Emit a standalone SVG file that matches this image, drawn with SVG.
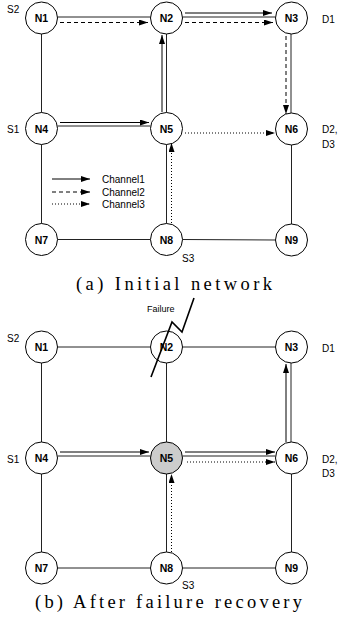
<svg xmlns="http://www.w3.org/2000/svg" width="339" height="628" viewBox="0 0 339 628">
  <defs>
    <marker id="ah" markerUnits="userSpaceOnUse" markerWidth="9" markerHeight="6" refX="9" refY="3" orient="auto">
      <path d="M0,0 L9,3 L0,6 z" fill="#000"/>
    </marker>
    <style>
      .edge { stroke: #222; stroke-width: 1; fill: none; }
      .ch1 { stroke: #000; stroke-width: 1; fill: none; marker-end: url(#ah); }
      .ch2 { stroke: #000; stroke-width: 1; fill: none; stroke-dasharray: 4 3; marker-end: url(#ah); }
      .ch3 { stroke: #000; stroke-width: 1; fill: none; stroke-dasharray: 1 2; marker-end: url(#ah); }
      .node circle { fill: #fff; stroke: #000; stroke-width: 1; }
      .node.failed circle { fill: #cccccc; }
      .node text { font-family: "Liberation Sans", Arial, sans-serif; font-weight: bold; font-size: 10.5px; text-anchor: middle; fill: #000; }
      .lbl { font-family: "Liberation Sans", Arial, sans-serif; font-size: 10px; fill: #000; }
      .cap { font-family: "Liberation Serif", "Times New Roman", serif; font-size: 18.5px; fill: #000; }
      .fail { stroke: #000; stroke-width: 1.6; fill: none; }
    </style>
  </defs>

  <!-- ===== (a) Initial network ===== -->
  <g id="connectors-a">
    <!-- links -->
    <line class="edge" x1="57.5" y1="17" x2="150.5" y2="17"/>
    <line class="edge" x1="182.5" y1="17" x2="275.5" y2="17"/>
    <line class="edge" x1="41.5" y1="34" x2="41.5" y2="112.5"/>
    <line class="edge" x1="166.5" y1="34" x2="166.5" y2="112.5"/>
    <line class="edge" x1="291" y1="34" x2="291" y2="113"/>
    <line class="edge" x1="57.5" y1="126" x2="150.5" y2="126"/>
    <line class="edge" x1="41.5" y1="144.5" x2="41.5" y2="223.5"/>
    <line class="edge" x1="166.5" y1="144.5" x2="166.5" y2="223.5"/>
    <line class="edge" x1="291.5" y1="145" x2="291.5" y2="224"/>
    <line class="edge" x1="57.5" y1="239.5" x2="150.5" y2="239.5"/>
    <line class="edge" x1="182.5" y1="239.5" x2="275.5" y2="240"/>
    <!-- channel paths -->
    <line class="ch2" x1="60" y1="22.5" x2="148" y2="22.5"/>
    <line class="ch1" x1="185" y1="13" x2="272" y2="13"/>
    <line class="ch2" x1="185" y1="22.5" x2="273" y2="22.5"/>
    <line class="ch1" x1="162" y1="112" x2="162" y2="35"/>
    <line class="ch2" x1="286" y1="36" x2="286" y2="114"/>
    <line class="ch1" x1="60" y1="122.5" x2="149" y2="122.5"/>
    <line class="ch3" x1="185" y1="133" x2="275" y2="133"/>
    <line class="ch3" x1="171.5" y1="223" x2="171.5" y2="143"/>
    <!-- legend -->
    <line class="ch1" x1="52" y1="179" x2="90" y2="179"/>
    <line class="ch2" x1="52" y1="192" x2="90" y2="192"/>
    <line class="ch3" x1="52" y1="204" x2="90" y2="204"/>
  </g>
  <g id="legend-a">
    <text class="lbl" x="102" y="183">Channel1</text>
    <text class="lbl" x="102" y="196">Channel2</text>
    <text class="lbl" x="102" y="208">Channel3</text>
  </g>

  <g id="a-N1" class="node"><circle cx="41.5" cy="18" r="16"/><text x="41.5" y="22">N1</text></g>
  <g id="a-N2" class="node"><circle cx="166.5" cy="18" r="16"/><text x="166.5" y="22">N2</text></g>
  <g id="a-N3" class="node"><circle cx="291.5" cy="18" r="16"/><text x="291.5" y="22">N3</text></g>
  <g id="a-N4" class="node"><circle cx="41.5" cy="128.5" r="16"/><text x="41.5" y="132.5">N4</text></g>
  <g id="a-N5" class="node"><circle cx="166.5" cy="128.5" r="16"/><text x="166.5" y="132.5">N5</text></g>
  <g id="a-N6" class="node"><circle cx="291.5" cy="129" r="16"/><text x="291.5" y="133">N6</text></g>
  <g id="a-N7" class="node"><circle cx="41.5" cy="239.5" r="16"/><text x="41.5" y="243.5">N7</text></g>
  <g id="a-N8" class="node"><circle cx="166.5" cy="239.5" r="16"/><text x="166.5" y="243.5">N8</text></g>
  <g id="a-N9" class="node"><circle cx="291.5" cy="240" r="16"/><text x="291.5" y="244">N9</text></g>

  <g id="labels-a">
    <text class="lbl" x="7" y="12.5">S2</text>
    <text class="lbl" x="322" y="22.5">D1</text>
    <text class="lbl" x="7" y="133">S1</text>
    <text class="lbl" x="322" y="133">D2,</text>
    <text class="lbl" x="322" y="147.5">D3</text>
    <text class="lbl" x="182" y="262">S3</text>
    <text class="cap" x="76" y="290" textLength="196" lengthAdjust="spacing">(a) Initial network</text>
  </g>

  <!-- ===== (b) After failure recovery ===== -->
  <g id="connectors-b">
    <line class="edge" x1="57.5" y1="347" x2="150.5" y2="347"/>
    <line class="edge" x1="182.5" y1="347" x2="275.5" y2="347"/>
    <line class="edge" x1="41.5" y1="363" x2="41.5" y2="442"/>
    <line class="edge" x1="166.5" y1="363" x2="166.5" y2="442"/>
    <line class="edge" x1="291" y1="363" x2="291" y2="442"/>
    <line class="edge" x1="57.5" y1="456" x2="150.5" y2="456"/>
    <line class="edge" x1="182.5" y1="456" x2="275.5" y2="456"/>
    <line class="edge" x1="41.5" y1="474" x2="41.5" y2="552"/>
    <line class="edge" x1="166.5" y1="474" x2="166.5" y2="552"/>
    <line class="edge" x1="291.5" y1="474" x2="291.5" y2="552"/>
    <line class="edge" x1="57.5" y1="568" x2="150.5" y2="568"/>
    <line class="edge" x1="182.5" y1="568" x2="275.5" y2="568"/>
    <!-- rerouted channel paths -->
    <line class="ch1" x1="60" y1="452" x2="149" y2="452"/>
    <line class="ch1" x1="185" y1="452" x2="275" y2="452"/>
    <line class="ch3" x1="187" y1="462" x2="275" y2="462"/>
    <line class="ch1" x1="286" y1="442" x2="286" y2="364"/>
    <line class="ch3" x1="171.5" y1="552" x2="171.5" y2="474"/>
  </g>

  <g id="b-N1" class="node"><circle cx="41.5" cy="347" r="16"/><text x="41.5" y="351">N1</text></g>
  <g id="b-N2" class="node"><circle cx="166.5" cy="347" r="16"/><text x="166.5" y="351">N2</text></g>
  <g id="b-N3" class="node"><circle cx="291.5" cy="347" r="16"/><text x="291.5" y="351">N3</text></g>
  <g id="b-N4" class="node"><circle cx="41.5" cy="458" r="16"/><text x="41.5" y="462">N4</text></g>
  <g id="b-N5" class="node failed"><circle cx="166.5" cy="458" r="16"/><text x="166.5" y="462">N5</text></g>
  <g id="b-N6" class="node"><circle cx="291.5" cy="458" r="16"/><text x="291.5" y="462">N6</text></g>
  <g id="b-N7" class="node"><circle cx="41.5" cy="568" r="16"/><text x="41.5" y="572">N7</text></g>
  <g id="b-N8" class="node"><circle cx="166.5" cy="568" r="16"/><text x="166.5" y="572">N8</text></g>
  <g id="b-N9" class="node"><circle cx="291.5" cy="568" r="16"/><text x="291.5" y="572">N9</text></g>

  <g id="failure">
    <polyline class="fail" points="151,377 172,322 182,332 194,298"/>
    <text class="lbl" x="147" y="312" style="font-size:9px">Failure</text>
  </g>

  <g id="labels-b">
    <text class="lbl" x="7" y="342">S2</text>
    <text class="lbl" x="322" y="351.5">D1</text>
    <text class="lbl" x="7" y="462.5">S1</text>
    <text class="lbl" x="322" y="462.5">D2,</text>
    <text class="lbl" x="322" y="477">D3</text>
    <text class="lbl" x="182" y="589">S3</text>
    <text class="cap" x="35" y="607.5" textLength="267" lengthAdjust="spacing">(b) After failure recovery</text>
  </g>
</svg>
